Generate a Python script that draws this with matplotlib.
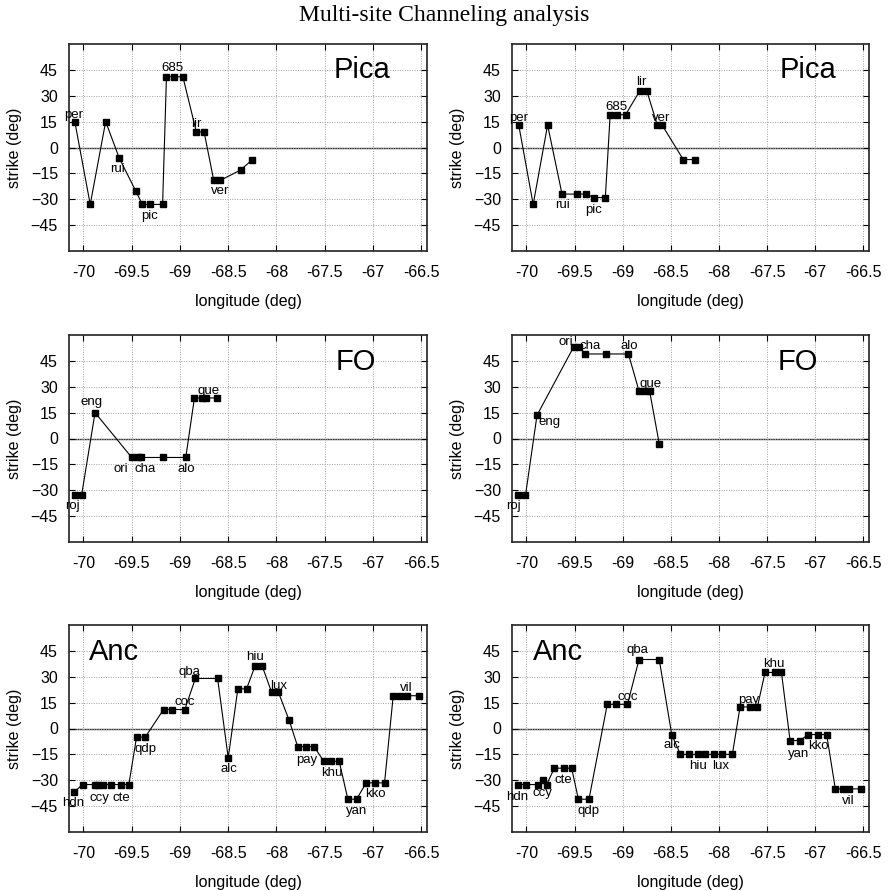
"""
Multi-site channeling analysis: strike vs longitude for three profiles,
two variants each (left / right columns).
"""

import matplotlib
matplotlib.use("Agg")
import matplotlib.pyplot as plt

# ---------------------------------------------------------------------------
# Data
# ---------------------------------------------------------------------------
PICA_L_LON = [-70.09, -69.93, -69.77, -69.63, -69.46, -69.39, -69.31, -69.18,
              -69.14, -69.06, -68.97, -68.83, -68.75, -68.65, -68.58, -68.37, -68.25]
PICA_L_STR = [15, -33, 15, -6, -25, -33, -33, -33, 41, 41, 41, 9, 9, -19, -19, -13, -7]
PICA_L_LAB = [(0, "per"), (3, "rui"), (6, "pic"), (9, "685"), (11, "lir"), (14, "ver")]

PICA_R_LON = [-70.08, -69.93, -69.78, -69.63, -69.47, -69.38, -69.30, -69.18,
              -69.13, -69.06, -68.97, -68.82, -68.75, -68.64, -68.59, -68.37, -68.25]
PICA_R_STR = [13, -33, 13, -27, -27, -27, -29, -29, 19, 19, 19, 33, 33, 13, 13, -7, -7]
PICA_R_LAB = [(0, "per"), (3, "rui"), (6, "pic"), (9, "685"), (11, "lir"), (14, "ver")]

FO_L_LON = [-70.09, -70.02, -69.88, -69.50, -69.43, -69.40, -69.18, -68.94,
            -68.85, -68.77, -68.73, -68.62]
FO_L_STR = [-33, -33, 15, -11, -11, -11, -11, -11, 23.5, 23.5, 23.5, 23.5]
FO_L_LAB = [(0, "roj"), (2, "eng"), (3, "ori"), (5, "cha"), (7, "alo"), (9, "que")]

FO_R_LON = [-70.09, -70.01, -69.89, -69.51, -69.45, -69.39, -69.17, -68.94,
            -68.83, -68.77, -68.72, -68.62]
FO_R_STR = [-33, -33, 13.5, 53, 53, 49, 49, 49, 27.5, 27.5, 27.5, -3]
FO_R_LAB = [(0, "roj"), (2, "eng"), (3, "ori"), (5, "cha"), (7, "alo"), (9, "que")]

ANC_L_LON = [-70.10, -70.01, -69.88, -69.85, -69.80, -69.71, -69.61, -69.53,
             -69.45, -69.36, -69.17, -69.08, -68.95, -68.84, -68.61, -68.50,
             -68.40, -68.31, -68.22, -68.15, -68.05, -67.98, -67.87, -67.78,
             -67.69, -67.61, -67.51, -67.43, -67.35, -67.26, -67.17, -67.07,
             -66.98, -66.88, -66.79, -66.72, -66.65, -66.52]
ANC_L_STR = [-37, -32.5, -32.5, -32.5, -32.5, -32.5, -32.5, -32.5,
             -5, -5, 11, 11, 11, 29, 29, -17,
             23, 23, 36.5, 36.5, 21, 21, 5, -10.5,
             -10.5, -10.5, -19, -19, -19, -41, -41, -31.5,
             -31.5, -31.5, 19, 19, 19, 19]
ANC_L_LAB = [(0, "hdn"), (3, "ccy"), (6, "cte"), (9, "qdp"), (12, "coc"), (13, "qba"),
             (15, "alc"), (18, "hiu"), (21, "lux"), (24, "pay"), (27, "khu"),
             (30, "yan"), (32, "kko"), (36, "vil")]

ANC_R_LON = [-70.09, -70.00, -69.88, -69.83, -69.79, -69.71, -69.61, -69.53,
             -69.46, -69.35, -69.16, -69.07, -68.95, -68.83, -68.62, -68.49,
             -68.40, -68.31, -68.22, -68.14, -68.05, -67.97, -67.86, -67.78,
             -67.68, -67.60, -67.52, -67.42, -67.35, -67.26, -67.16, -67.07,
             -66.97, -66.88, -66.79, -66.71, -66.65, -66.52]
ANC_R_STR = [-32.5, -32.5, -32.5, -30, -32.5, -23, -23, -23,
             -41, -41, 14, 14, 14, 40, 40, -3.5,
             -15, -15, -15, -15, -15, -15, -15, 12.5,
             12.5, 12.5, 32.5, 32.5, 32.5, -7, -7, -3.5,
             -3.5, -3.5, -35, -35, -35, -35]
ANC_R_LAB = [(0, "hdn"), (3, "ccy"), (6, "cte"), (9, "qdp"), (12, "coc"), (13, "qba"),
             (15, "alc"), (18, "hiu"), (21, "lux"), (24, "pay"), (27, "khu"),
             (30, "yan"), (32, "kko"), (36, "vil")]

X_TICKS = [-70, -69.5, -69, -68.5, -68, -67.5, -67, -66.5]
X_TICKLABELS = ["-70", "-69.5", "-69", "-68.5", "-68", "-67.5", "-67", "-66.5"]
Y_TICKS = [-45, -30, -15, 0, 15, 30, 45]

# ---------------------------------------------------------------------------
# Label offsets (points) per panel, same order as the label lists
# ---------------------------------------------------------------------------
OFF_PICA_L = [(-1, 5), (-1.5, -8), (0, -8.5), (-1, 6), (0, 5.5), (0, -8)]
OFF_PICA_R = [(0, 5), (0, -8), (0, -9), (-0.5, 5.5), (1, 6), (-1, 5)]
OFF_FO_L = [(-2, -7.5), (-2.4, 7.7), (-7.7, -8), (3, -8), (0, -8), (4.3, 5.3)]
OFF_FO_R = [(-3, -7.5), (9, -4.8), (-5.3, 3.6), (3.4, 5.8), (0.5, 5.8), (3.8, 5)]
OFF_ANC_L = [(-0.5, -7.7), (1.2, -9.4), (0.3, -9.4), (0, -8.2), (0, 5.3), (-4, 5),
             (0.5, -8), (0, 5.8), (0, 4.8), (0, -9.6), (0, -8.2), (-0.3, -8.2),
             (0, -7.7), (0, 5.8)]
OFF_ANC_R = [(-0.7, -8.9), (-0.5, -9.4), (-0.3, -8.4), (0, -8.6), (0, 5.3), (-1.2, 7.2),
             (0.3, -7.7), (0, -8.6), (-0.5, -8.6), (-0.5, 4.8), (-0.7, 6.2), (-0.7, -9.6),
             (0, -8.2), (-0.2, -8.6)]

SANS = ["Liberation Sans", "DejaVu Sans"]
SERIF = ["Liberation Serif", "DejaVu Serif"]

plt.rcParams["font.family"] = SANS

W, H = 888, 891
fig = plt.figure(figsize=(W / 100, H / 100), dpi=100)
fig.text(0.5, 1 - 15 / H, "Multi-site Channeling analysis", ha="center", va="center",
         fontsize=17, family=SERIF)

col_x = [69 / W, 512 / W]
col_w = [358 / W, 357 / W]
row_top = [44, 335, 625]
ax_h = 207

panels = [
    (0, 0, PICA_L_LON, PICA_L_STR, PICA_L_LAB, OFF_PICA_L, "Pica", (0.818, 0.874)),
    (0, 1, PICA_R_LON, PICA_R_STR, PICA_R_LAB, OFF_PICA_R, "Pica", (0.830, 0.874)),
    (1, 0, FO_L_LON, FO_L_STR, FO_L_LAB, OFF_FO_L, "FO", (0.800, 0.870)),
    (1, 1, FO_R_LON, FO_R_STR, FO_R_LAB, OFF_FO_R, "FO", (0.800, 0.870)),
    (2, 0, ANC_L_LON, ANC_L_STR, ANC_L_LAB, OFF_ANC_L, "Anc", (0.126, 0.870)),
    (2, 1, ANC_R_LON, ANC_R_STR, ANC_R_LAB, OFF_ANC_R, "Anc", (0.130, 0.870)),
]

for row, col, lon, strike, labels, offs, name, name_pos in panels:
    bottom = 1 - (row_top[row] + ax_h) / H
    ax = fig.add_axes([col_x[col], bottom, col_w[col], ax_h / H])

    ax.set_xlim(-70.15, -66.44)
    ax.set_ylim(-60, 60)
    ax.set_xticks(X_TICKS)
    ax.set_xticklabels(X_TICKLABELS)
    ax.set_yticks(Y_TICKS)
    ax.tick_params(direction="in", length=4, width=0.8, top=True, right=True,
                   labelsize=11.5)
    ax.tick_params(axis="x", pad=10)
    ax.tick_params(axis="y", pad=8)
    ax.grid(True, linestyle=(0, (1, 1.5)), color="#a0a0a0", linewidth=0.7)
    ax.axhline(0, color="#333333", linewidth=1.0, zorder=1.5)
    for sp in ax.spines.values():
        sp.set_linewidth(1.2)
        sp.set_color("#222222")

    ax.plot(lon, strike, color="black", linewidth=0.8, marker="s", markersize=4,
            markerfacecolor="black", markeredgecolor="black", zorder=3)

    for (idx, txt), (dx, dy) in zip(labels, offs):
        ax.annotate(txt, (lon[idx], strike[idx]), xytext=(dx, dy),
                    textcoords="offset points", ha="center", va="center",
                    fontsize=9.5, zorder=4)

    ax.text(name_pos[0], name_pos[1], name, transform=ax.transAxes,
            ha="center", va="center", fontsize=21)

    ax.set_xlabel("longitude (deg)", fontsize=11.5, labelpad=10)
    ax.set_ylabel("strike (deg)", fontsize=11.5, labelpad=6)

fig.savefig("out.png", dpi=100)
